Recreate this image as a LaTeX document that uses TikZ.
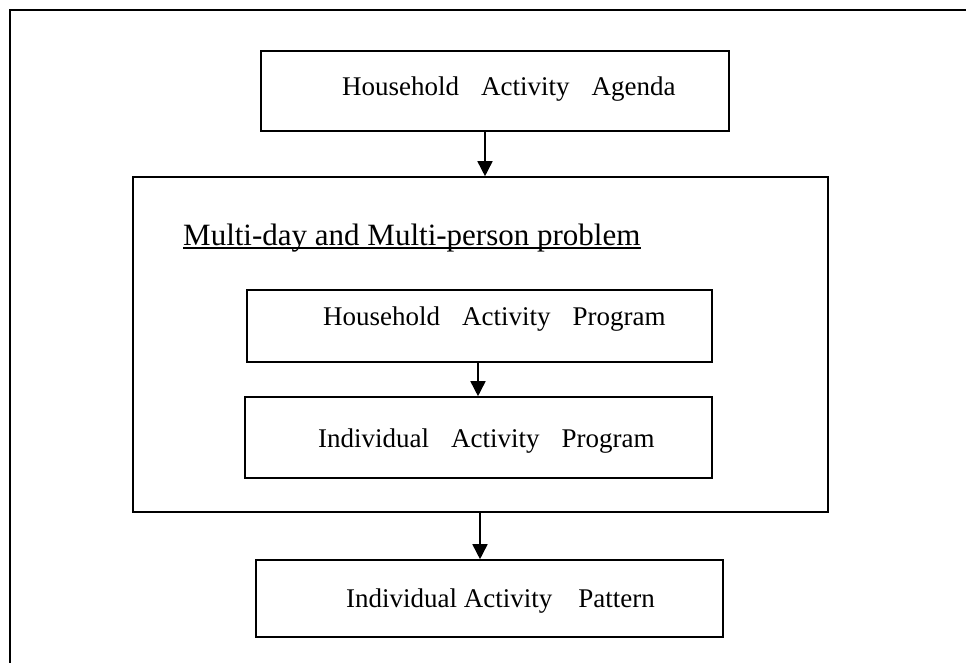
\documentclass[tikz,border=0pt]{standalone}
\usepackage{fontspec}
\setmainfont{Liberation Serif}
\usetikzlibrary{arrows.meta}
\newcommand\wgap{\hspace{22pt}}
\begin{document}
\begin{tikzpicture}[x=1pt,y=-1pt,
  box/.style={draw, line width=1.6pt, inner sep=0pt, rectangle},
  label/.style={anchor=base west, inner sep=0pt, font=\fontsize{27}{32}\selectfont},
  arr/.style={line width=1.6pt, -{Triangle[length=15pt,width=15pt]}}]
  \useasboundingbox (0,0) rectangle (966,662);
  % page frame, open at the right and bottom
  \coordinate (fbl) at (10,680);
  \coordinate (ftl) at (10,10);
  \coordinate (ftr) at (980,10);
  \draw[line width=2.2pt] (fbl) -- (ftl) -- (ftr);

  % boxes
  \node[box, minimum width=468pt, minimum height=80pt] (agenda) at (495,91) {};
  \node[box, minimum width=695pt, minimum height=335pt] (outer) at (480.5,344.5) {};
  \node[box, minimum width=465pt, minimum height=72pt] (hap) at (479.5,326) {};
  \node[box, minimum width=467pt, minimum height=81pt] (iap) at (478.5,437.5) {};
  \node[box, minimum width=467pt, minimum height=77pt] (pattern) at (489.5,598.5) {};

  % texts
  \node[label] (tagenda) at (342,95) {Household\wgap Activity\wgap Agenda};
  \node[anchor=base west, inner sep=0pt, font=\fontsize{31}{37}\selectfont] (title) at (183,245) {Multi-day and Multi-person problem};
  \draw[line width=1.8pt] ([yshift=-3pt]title.base west) -- ([yshift=-3pt]title.base east);
  \node[label] (thap) at (323,325) {Household\wgap Activity\wgap Program};
  \node[label] (tiap) at (318,447) {Individual\wgap Activity\wgap Program};
  \node[label] (tpat) at (346,607) {Individual Activity\hspace{26pt}Pattern};

  % connectors
  \coordinate (xa) at (485,0);
  \coordinate (xb) at (478,0);
  \coordinate (xc) at (480,0);
  \draw[arr] (agenda.south -| xa) -- (outer.north -| xa);
  \draw[arr] (hap.south -| xb) -- (iap.north -| xb);
  \draw[arr] (outer.south -| xc) -- (pattern.north -| xc);
\end{tikzpicture}
\end{document}
